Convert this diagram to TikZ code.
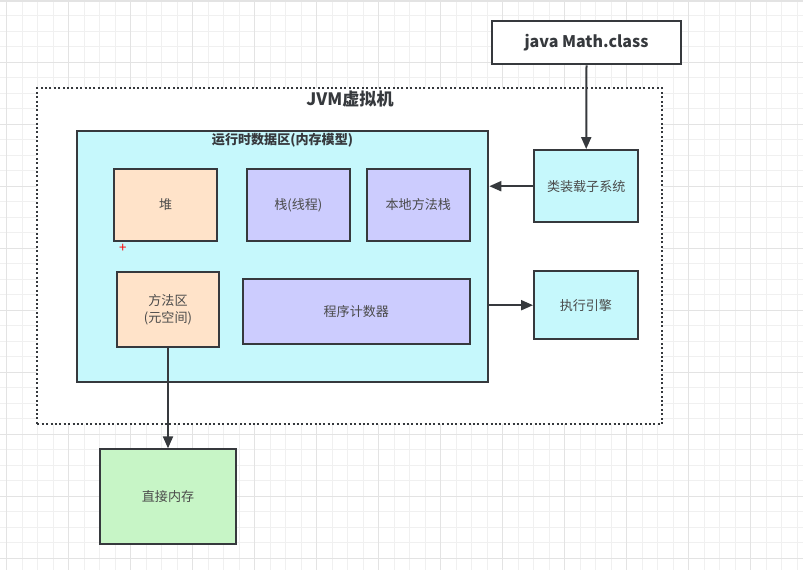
\documentclass[tikz,border=0pt]{standalone}
\usepackage{fontspec}
\setmainfont{Noto Sans CJK SC}
\usetikzlibrary{arrows.meta}
\def\pxu{0.75pt}
\definecolor{gridminor}{HTML}{F0F0F0}
\definecolor{gridmajor}{HTML}{E3E3E3}
\definecolor{strokec}{HTML}{36393D}
\definecolor{txtc}{HTML}{4A4A4A}
\definecolor{cyanf}{HTML}{C6F8FC}
\definecolor{peachf}{HTML}{FFE3C9}
\definecolor{lavf}{HTML}{CCCCFE}
\definecolor{greenf}{HTML}{C7F5C6}
\tikzset{
  pbox/.style={draw=strokec, line width=1.5pt, rectangle, inner sep=0pt, align=center,
    text=txtc, font=\fontsize{9.8pt}{13pt}\selectfont},
  conn/.style={draw=strokec, line width=1.5pt, -{Triangle[length=9pt,width=7.5pt]}},
}
\begin{document}
\begin{tikzpicture}[x=0.75pt,y=-0.75pt]
\useasboundingbox (0,0) rectangle (803,570);
\fill[white] (0,0) rectangle (803,570);
% grid
\foreach \i in {0,...,52} {
  \draw[gridminor, line width=0.75pt] ({6.7+15.5*\i},0) -- ({6.7+15.5*\i},570);
}
\foreach \j in {-4,...,33} {
  \draw[gridminor, line width=0.75pt] (0,{62.3+15.5*\j}) -- (803,{62.3+15.5*\j});
}
\foreach \i in {0,...,13} {
  \draw[gridmajor, line width=0.75pt] ({6.7+62*\i},0) -- ({6.7+62*\i},570);
}
\foreach \j in {0,...,9} {
  \draw[gridmajor, line width=0.75pt] (0,{0.3+62*\j}) -- (803,{0.3+62*\j});
}
\fill[gridmajor] (0,0) rectangle (803,2.5);

% JVM dotted container
\node[draw=strokec, line width=1.5pt, dash pattern=on 1.5pt off 1.8pt, fill=white,
  minimum width=624.4*\pxu, minimum height=336*\pxu, inner sep=0pt] (jvm) at (349.5,256.3) {};
\node[font=\bfseries\fontsize{12.8pt}{15pt}\selectfont, text=strokec, inner sep=0pt] (jvmlabel) at (350,99.5) {JVM虚拟机};

% runtime data area
\node[pbox, fill=cyanf, minimum width=411*\pxu, minimum height=251*\pxu] (rt) at (282.8,256.2) {};
\node[font=\bfseries\fontsize{9.8pt}{12pt}\selectfont, text=strokec, inner sep=0pt] (rtlabel) at (282.5,140) {运行时数据区(内存模型)};

\node[pbox, fill=peachf, minimum width=103.3*\pxu, minimum height=72*\pxu] (heap) at (165.7,205) {堆};
\node[pbox, fill=lavf, minimum width=103.3*\pxu, minimum height=72*\pxu] (stack) at (298.3,205) {栈(线程)};
\node[pbox, fill=lavf, minimum width=103.3*\pxu, minimum height=72*\pxu] (native) at (418.3,205) {本地方法栈};
\node[pbox, fill=peachf, minimum width=102.6*\pxu, minimum height=75.6*\pxu] (method) at (168,309.5) {方法区\\(元空间)};
\node[pbox, fill=lavf, minimum width=227.3*\pxu, minimum height=64.7*\pxu] (pc) at (356.3,311.7) {程序计数器};

\node[text=red, font=\fontsize{10pt}{10pt}\selectfont, inner sep=0pt] (plus) at (122.7,248.5) {+};

% outside boxes
\node[pbox, fill=cyanf, minimum width=103.7*\pxu, minimum height=72.3*\pxu] (loader) at (586.2,186.2) {类装载子系统};
\node[pbox, fill=cyanf, minimum width=103.7*\pxu, minimum height=68.3*\pxu] (exec) at (585.9,305.2) {执行引擎};
\node[pbox, fill=white, minimum width=188.4*\pxu, minimum height=43.3*\pxu, text=strokec,
  font=\bfseries\fontsize{12pt}{15pt}\selectfont] (java) at (586.5,42.7) {java Math.class};
\node[pbox, fill=greenf, minimum width=136*\pxu, minimum height=94.7*\pxu] (direct) at (168,496.7) {直接内存};

% connectors
\draw[conn] (java.south) -- (loader.north);
\draw[conn] (loader.west) -- (loader.west -| rt.east);
\draw[conn] (exec.west -| rt.east) -- (exec.west);
\draw[conn] (method.south) -- (direct.north);
\end{tikzpicture}
\end{document}
